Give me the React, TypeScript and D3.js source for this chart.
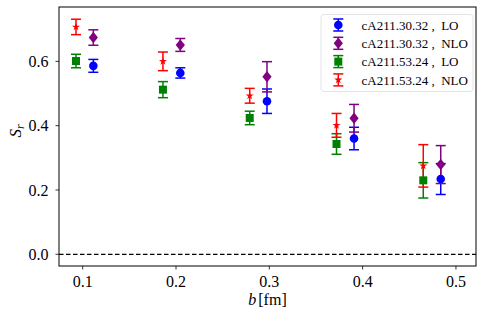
import React from "react";
import * as d3 from "d3";

const bLeft = [0.0928, 0.186, 0.279, 0.372, 0.465];
const bRight = [0.1114, 0.2046, 0.2975, 0.3908, 0.4837];

const loA = [0.586, 0.564, 0.476, 0.36, 0.234];
const loAErr = [0.02, 0.016, 0.038, 0.035, 0.048];
const nloA = [0.674, 0.651, 0.552, 0.423, 0.279];
const nloAErr = [0.024, 0.02, 0.047, 0.043, 0.059];
const loB = [0.601, 0.512, 0.424, 0.343, 0.23];
const loBErr = [0.021, 0.025, 0.021, 0.032, 0.055];
const nloB = [0.707, 0.6, 0.493, 0.401, 0.275];
const nloBErr = [0.024, 0.029, 0.023, 0.037, 0.066];

const xTicks = [0.1, 0.2, 0.3, 0.4, 0.5];
const yTicks = [0.0, 0.2, 0.4, 0.6];

const series = [
  { label: "cA211.30.32 ,  LO", x: bRight, y: loA, e: loAErr, color: "#0000ff", shape: "circle" },
  { label: "cA211.30.32 ,  NLO", x: bRight, y: nloA, e: nloAErr, color: "#800080", shape: "diamond" },
  { label: "cA211.53.24 ,  LO", x: bLeft, y: loB, e: loBErr, color: "#008000", shape: "square" },
  { label: "cA211.53.24 ,  NLO", x: bLeft, y: nloB, e: nloBErr, color: "#ff0000", shape: "star" },
];

const L = 59, R = 476, T = 7, B = 266;
const FONT = "Liberation Serif, serif";

function Marker({ shape, cx, cy, color }: { shape: string; cx: number; cy: number; color: string }) {
  if (shape === "circle") return <circle cx={cx} cy={cy} r={4.3} fill={color} />;
  if (shape === "square") return <rect x={cx - 4} y={cy - 4} width={8} height={8} fill={color} />;
  if (shape === "diamond") {
    const p = `M0,-5.8L4.6,0L0,5.8L-4.6,0Z`;
    return <path d={p} transform={`translate(${cx},${cy})`} fill={color} />;
  }
  const p = d3.symbol().type(d3.symbolStar).size(20)();
  return <path d={p || ""} transform={`translate(${cx},${cy})`} fill={color} />;
}

function ErrBar({ cx, y0, y1, color }: { cx: number; y0: number; y1: number; color: string }) {
  return (
    <g stroke={color} strokeWidth={1.5}>
      <line x1={cx} x2={cx} y1={y0} y2={y1} />
      <line x1={cx - 5} x2={cx + 5} y1={y0} y2={y0} />
      <line x1={cx - 5} x2={cx + 5} y1={y1} y2={y1} />
    </g>
  );
}

export default function App() {
  const x = d3.scaleLinear().domain([0.0746, 0.5215]).range([L, R]);
  const y = d3.scaleLinear().domain([-0.0364, 0.769]).range([B, T]);

  return (
    <svg width={488} height={322} style={{ position: "absolute", left: 0, top: 0, fontFamily: FONT }}>
      <rect width={488} height={322} fill="white" />
      <line x1={L} x2={R} y1={y(0)} y2={y(0)} stroke="black" strokeWidth={1.2} strokeDasharray="4.5,2.5" />
      {series.map((s) =>
        s.y.map((v, i) => (
          <g key={s.label + i}>
            <ErrBar cx={x(s.x[i])} y0={y(v + s.e[i])} y1={y(v - s.e[i])} color={s.color} />
          </g>
        ))
      )}
      {series.map((s) =>
        s.y.map((v, i) => (
          <Marker key={s.label + "m" + i} shape={s.shape} cx={x(s.x[i])} cy={y(v)} color={s.color} />
        ))
      )}
      <rect x={L} y={T} width={R - L} height={B - T} fill="none" stroke="black" strokeWidth={1} />
      {xTicks.map((t) => (
        <g key={"x" + t}>
          <line x1={x(t)} x2={x(t)} y1={B} y2={B + 3.5} stroke="black" strokeWidth={0.8} />
          <text x={x(t)} y={B + 20.5} textAnchor="middle" fontSize={16}>{t.toFixed(1)}</text>
        </g>
      ))}
      {yTicks.map((t) => (
        <g key={"y" + t}>
          <line x1={L} x2={L - 3.5} y1={y(t)} y2={y(t)} stroke="black" strokeWidth={0.8} />
          <text x={L - 10.5} y={y(t) + 5.6} textAnchor="end" fontSize={16}>{t.toFixed(1)}</text>
        </g>
      ))}
      <text x={267.5} y={305} textAnchor="middle" fontSize={16}>
        <tspan fontStyle="italic">b</tspan>
        <tspan dx={2}>[fm]</tspan>
      </text>
      <text transform={`translate(21,131) rotate(-90)`} textAnchor="middle" fontSize={17}>
        <tspan fontStyle="italic">S</tspan>
        <tspan fontStyle="italic" fontSize={12} dy={3}>r</tspan>
      </text>
      <rect x={321} y={14.5} width={152} height={77} rx={3} fill="white" fillOpacity={0.8} stroke="#dddddd" strokeWidth={0.8} />
      {series.map((s, i) => {
        const ly = 25 + i * 18.3;
        return (
          <g key={"leg" + i}>
            <ErrBar cx={338.3} y0={ly - 6} y1={ly + 6} color={s.color} />
            <Marker shape={s.shape} cx={338.3} cy={ly} color={s.color} />
            <text x={361.5} y={ly + 4.6} fontSize={13} style={{ whiteSpace: "pre" }}>{s.label}</text>
          </g>
        );
      })}
    </svg>
  );
}
